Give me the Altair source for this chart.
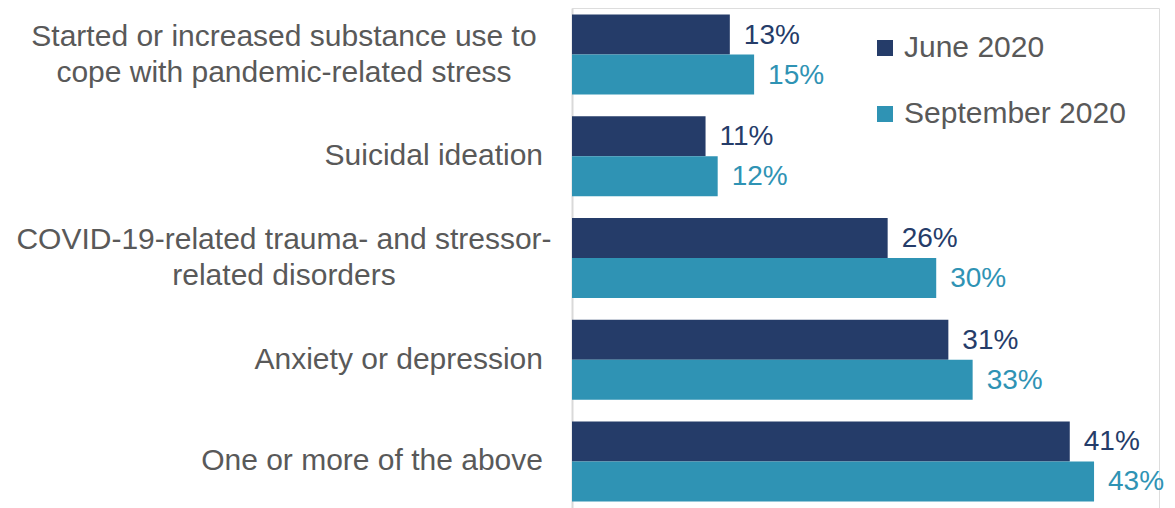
import altair as alt
import pandas as pd

categories = [
    "Started or increased substance use to cope with pandemic-related stress",
    "Suicidal ideation",
    "COVID-19-related trauma- and stressor-related disorders",
    "Anxiety or depression",
    "One or more of the above",
]
display_labels = [
    "Started or increased substance use to\ncope with pandemic-related stress\u00a0",
    "Suicidal ideation\u00a0",
    "COVID-19-related trauma- and stressor-\nrelated disorders",
    "Anxiety or depression\u00a0",
    "One or more of the above",
]
series_names = ["June 2020", "September 2020"]
june_2020 = [13, 11, 26, 31, 41]
september_2020 = [15, 12, 30, 33, 43]

DARK = "#253C69"
LIGHT = "#2F93B4"
GRAY = "#595959"
FONT = "Liberation Sans"
FS = 30

rows = []
for c, j, s in zip(categories, june_2020, september_2020):
    rows.append({"cat": c, "series": series_names[0], "value": j, "txt": f"{j}%"})
    rows.append({"cat": c, "series": series_names[1], "value": s, "txt": f"{s}%"})
df = pd.DataFrame(rows)

labels_df = pd.DataFrame({
    "cat": categories,
    "label": display_labels,
    "nlines": [l.count("\n") + 1 for l in display_labels],
})

y_scale = alt.Scale(domain=categories, paddingInner=0.2138, paddingOuter=0.064, align=0.5)
y_enc = alt.Y("cat:N", scale=y_scale, sort=categories,
              axis=alt.Axis(labels=False, ticks=False, tickSize=0, title=None,
                            domain=True, domainColor="#D9D9D9", domainWidth=2, grid=False))
x_enc = alt.X("value:Q", scale=alt.Scale(domain=[0, 48.35], nice=False), axis=None)
yoff = alt.YOffset("series:N", sort=series_names,
                   scale=alt.Scale(domain=series_names, paddingInner=0, paddingOuter=0))

bars = alt.Chart(df).mark_bar().encode(
    y=y_enc,
    x=x_enc,
    yOffset=yoff,
    color=alt.Color("series:N", sort=series_names,
                    scale=alt.Scale(domain=series_names, range=[DARK, LIGHT]),
                    legend=alt.Legend(orient="none", legendX=298, legendY=25, title=None,
                                      symbolType="square", symbolSize=256,
                                      symbolStrokeWidth=0, labelFontSize=FS,
                                      labelFont=FONT, labelColor=GRAY, labelOffset=4,
                                      rowPadding=36, labelLimit=400)),
)

values = alt.Chart(df).mark_text(align="left", baseline="middle", dx=14, dy=1,
                                 fontSize=28, font=FONT).encode(
    y=alt.Y("cat:N", sort=categories),
    x=x_enc,
    yOffset=yoff,
    text="txt:N",
    color=alt.condition(f"datum.series == '{series_names[0]}'", alt.value(DARK), alt.value(LIGHT)),
)

single = alt.Chart(labels_df).transform_filter("datum.nlines == 1").mark_text(
    align="right", baseline="middle", fontSize=FS, font=FONT, color=GRAY
).encode(y=alt.Y("cat:N", sort=categories), x=alt.value(-29), text="label:N")

double = alt.Chart(labels_df).transform_filter("datum.nlines > 1").mark_text(
    align="center", baseline="middle", fontSize=FS, font=FONT, color=GRAY,
    lineBreak="\n", lineHeight=36, dy=-18
).encode(y=alt.Y("cat:N", sort=categories), x=alt.value(-288), text="label:N")

chart = alt.layer(bars, values, single, double).properties(
    width=587, height=500,
    autosize=alt.AutoSizeParams(type="none"),
    padding={"left": 564, "top": 0, "right": 8, "bottom": 0},
).configure_view(stroke=None).configure(background="white")

chart.save("out.html", embed_options={"renderer": "svg", "actions": False})
